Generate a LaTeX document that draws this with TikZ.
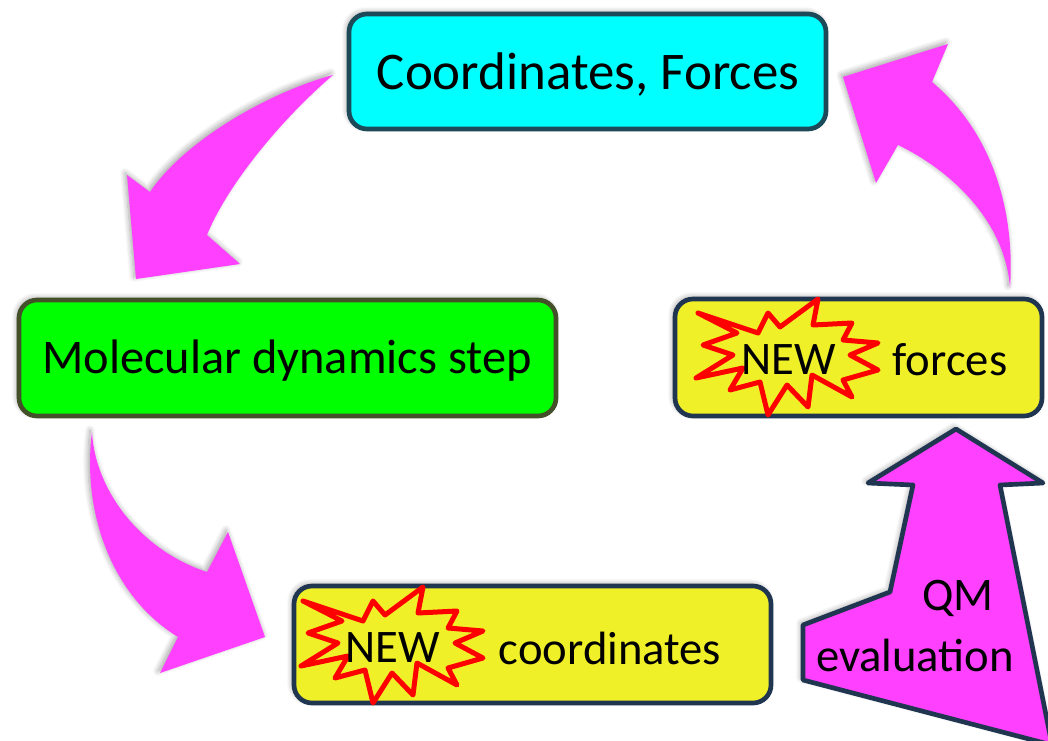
\documentclass[tikz,border=0pt]{standalone}
\usepackage{fontspec}
\setmainfont{Carlito}
\usetikzlibrary{shadows.blur}
\definecolor{mag}{RGB}{255,64,255}
\definecolor{cyanfill}{RGB}{0,255,255}
\definecolor{greenfill}{RGB}{0,255,0}
\definecolor{yellowfill}{RGB}{240,240,40}
\definecolor{cyanedge}{RGB}{29,74,88}
\definecolor{greenedge}{RGB}{68,80,42}
\definecolor{navyedge}{RGB}{31,53,80}
\definecolor{starred}{RGB}{255,0,0}
\tikzset{
  softshadow/.style={blur shadow={shadow xshift=-1.5pt, shadow yshift=1.5pt, shadow blur steps=8, shadow blur radius=4pt, shadow opacity=35}},
  box/.style={rounded corners=13.5pt, line width=3.5pt, softshadow, inner sep=0pt},
  bigtext/.style={font=\fontsize{39.7}{44}\selectfont, inner sep=0pt},
  midtext/.style={font=\fontsize{35}{40}\selectfont, inner sep=0pt},
  curvearrow/.style={fill=mag, draw=none, softshadow},
  qmarrow/.style={fill=mag, draw=navyedge, line width=3.5pt, line join=round, softshadow},
  burst/.style={draw=starred, line width=3.75pt, line join=round}
}
\begin{document}
\begin{tikzpicture}[x=0.75pt,y=-0.75pt]
\path[use as bounding box] (0,0) rectangle (1048,741);

% curved arrows
\path[curvearrow] (333,75) .. controls (270,92) and (185,140) .. (150,192)
  -- (127,175) -- (136,279) -- (240,264) -- (207,235)
  .. controls (225,190) and (275,125) .. (333,75) -- cycle;
\path[curvearrow] (1010,288) .. controls (1015,215) and (995,135) .. (932,82)
  -- (948,44) -- (843,77) -- (876,183) -- (898,145)
  .. controls (950,170) and (1005,220) .. (1010,288) -- cycle;
\path[curvearrow] (92,432) .. controls (95,490) and (140,550) .. (207,572)
  -- (228,532) -- (265,637) -- (160,673) -- (178,637)
  .. controls (110,595) and (82,510) .. (92,432) -- cycle;

% QM arrow
\draw[qmarrow] (956,429) -- (1043,483) -- (1000,485) -- (1052,745)
  -- (803,680) -- (803,625) -- (890,592) -- (913,485) -- (868,483) -- cycle;
\node[midtext] (qm) at (958,598) {QM};
\node[midtext] (qmev) at (915,655) {evaluation};

% boxes
\node[box, draw=cyanedge, fill=cyanfill, minimum width=357.75pt, minimum height=86.25pt] (coord) at (587.5,71.5) {};
\node[bigtext] (coordtxt) at (588,75) {Coordinates, Forces};

\node[box, draw=greenedge, fill=greenfill, minimum width=402.75pt, minimum height=87pt] (md) at (287.5,358) {};
\node[midtext, font=\fontsize{36.3}{40}\selectfont] (mdtxt) at (287,361) {Molecular dynamics step};

\node[box, draw=navyedge, fill=yellowfill, minimum width=275.25pt, minimum height=87.75pt] (nf) at (858.5,357.5) {};
\node[box, draw=navyedge, fill=yellowfill, minimum width=357.75pt, minimum height=87.75pt] (nc) at (532.5,644.5) {};

% starbursts
\foreach \sx/\sy in {0/0, -395/288}{
\begin{scope}[shift={(\sx,\sy)}]
\draw[burst] (698,313) -- (758,333) -- (768,313) -- (780,327) -- (818,299)
  -- (813,325) -- (852,323) -- (843,340) -- (878,343) -- (850,355)
  -- (878,370) -- (843,380) -- (852,397) -- (812,375) -- (808,407)
  -- (787,385) -- (768,415) -- (760,382) -- (730,390) -- (743,368)
  -- (696,378) -- (733,355) -- (703,345) -- (737,333) -- cycle;
\end{scope}}

\node[midtext] (new1) at (789,360) {NEW};
\node[midtext] (forces) at (950,360) {forces};
\node[midtext] (new2) at (393,648) {NEW};
\node[midtext] (coords) at (610,648) {coordinates};
\end{tikzpicture}
\end{document}
